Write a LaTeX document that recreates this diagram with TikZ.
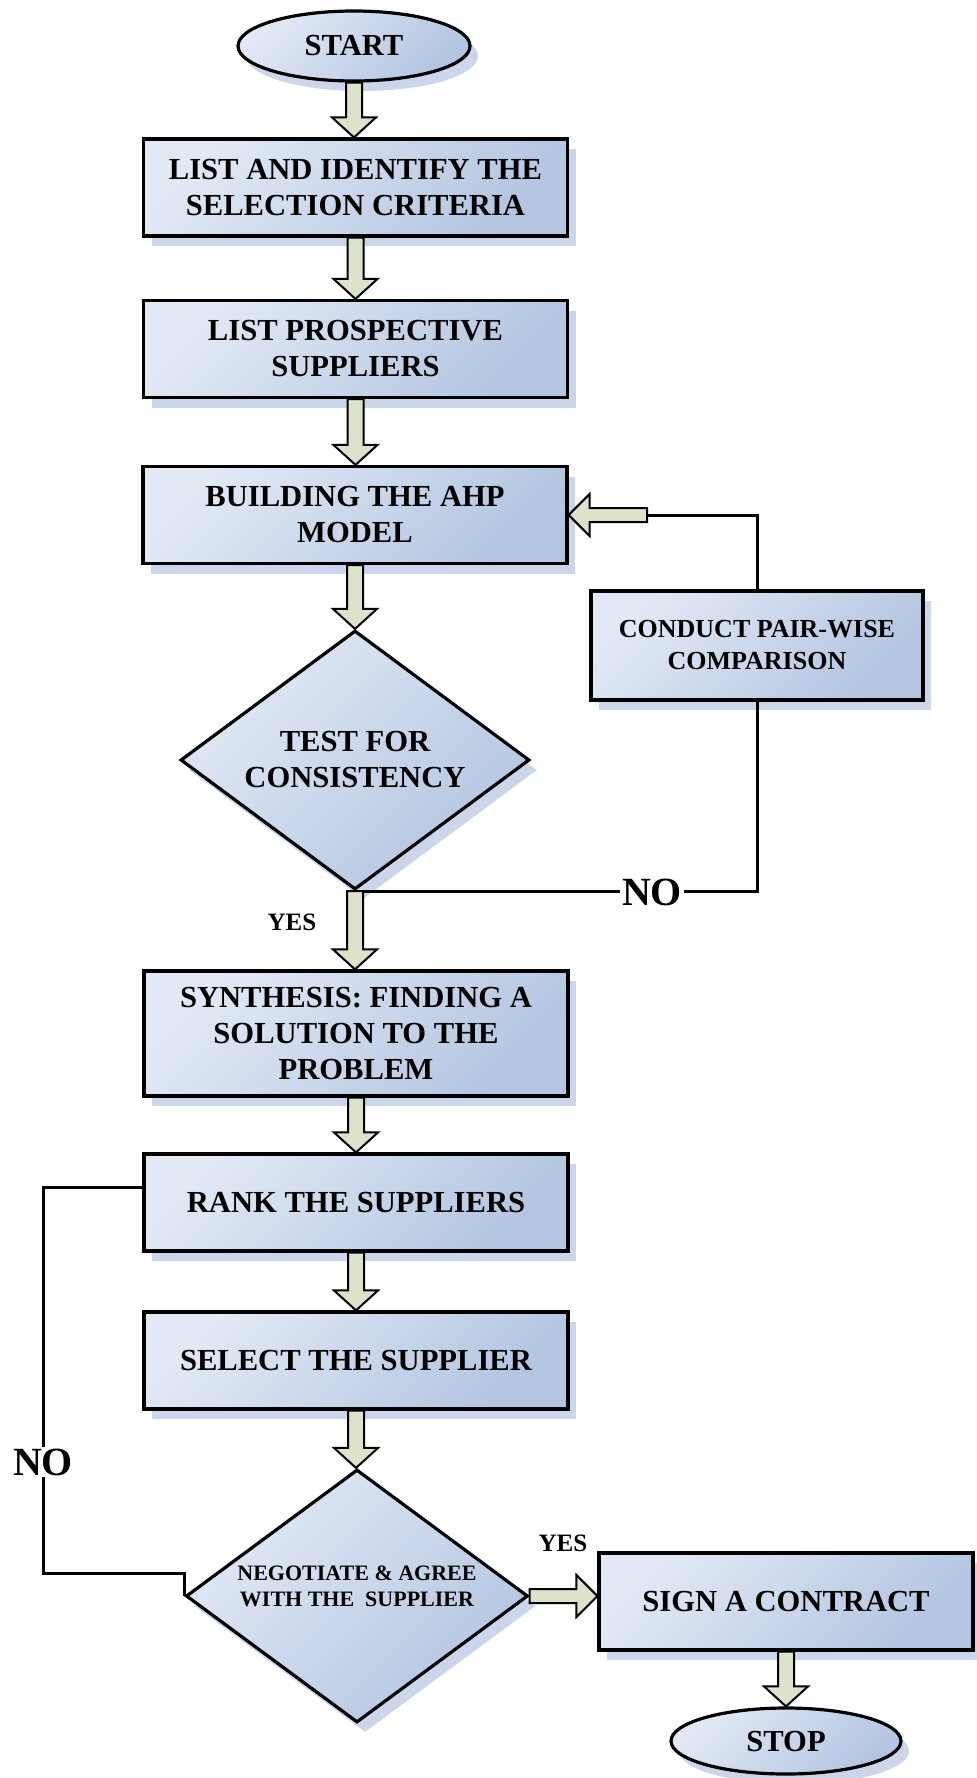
\documentclass[tikz,border=0pt]{standalone}
\usepackage{fontspec}
\setmainfont{Liberation Serif}
\usetikzlibrary{shapes.geometric,shadows,calc}

\definecolor{boxtop}{HTML}{E2E9F5}
\definecolor{boxbottom}{HTML}{B3C5E1}
\definecolor{shadowblue}{HTML}{CBD6EB}
\definecolor{arrowfill}{HTML}{DDE2CB}

\tikzset{
  shaded/.style={top color=boxtop, bottom color=boxbottom, shading angle=45,
    drop shadow={shadow xshift=4pt, shadow yshift=-5pt, fill=shadowblue, opacity=1}},
  flowbox/.style={rectangle, draw, line width=1.6pt, shaded, align=center,
    minimum width=212pt, minimum height=48.5pt, inner sep=2pt,
    font=\fontsize{15.3}{18}\selectfont\bfseries},
  decision/.style={diamond, aspect=1.35, draw, line width=1.6pt, shaded, align=center,
    inner sep=0pt, font=\fontsize{15.3}{18}\selectfont\bfseries},
  terminal/.style={ellipse, draw, line width=1.6pt, shaded, inner sep=0pt,
    minimum width=116pt, minimum height=35pt,
    font=\fontsize{15.3}{18}\selectfont\bfseries},
  blockarrow/.style={draw, line width=1pt, fill=arrowfill, line join=miter},
  loopline/.style={line width=1.5pt},
  nolabel/.style={fill=white, inner sep=1pt, font=\fontsize{20}{22}\selectfont\bfseries},
  yeslabel/.style={inner sep=1pt, font=\fontsize{12.5}{14}\selectfont\bfseries}
}

% fat arrow pointing down, from the bottom of one node to the top of the next
\newcommand{\vblock}[2]{%
  \draw[blockarrow] let \p1=(#1.south), \p2=(#2.north) in
    ({\x1-4pt},\y1) -- ({\x1-4pt},{\y2+10pt}) -- ({\x1-11pt},{\y2+10pt}) -- (\x1,\y2)
    -- ({\x1+11pt},{\y2+10pt}) -- ({\x1+4pt},{\y2+10pt}) -- ({\x1+4pt},\y1) -- cycle;}
% fat horizontal arrow, #3 = 1 to the right, -1 to the left
\newcommand{\hblock}[3]{%
  \draw[blockarrow] let \p1=(#1), \p2=(#2) in
    (\x1,{\y1+3.5pt}) -- ({\x2-(#3)*10.5pt},{\y1+3.5pt}) -- ({\x2-(#3)*10.5pt},{\y1+10.5pt})
    -- (\x2,\y1) -- ({\x2-(#3)*10.5pt},{\y1-10.5pt}) -- ({\x2-(#3)*10.5pt},{\y1-3.5pt})
    -- (\x1,{\y1-3.5pt}) -- cycle;}

\begin{document}
\begin{tikzpicture}[x=0.5pt,y=-0.5pt]
  \useasboundingbox (0,0) rectangle (976,1778);

  % main column
  \node[terminal] (start) at (354,46) {START};
  \node[flowbox] (criteria) at (355.5,187.5) {LIST AND IDENTIFY THE\\SELECTION CRITERIA};
  \node[flowbox] (prospects) at (355.5,349) {LIST PROSPECTIVE\\SUPPLIERS};
  \node[flowbox] (model) at (355,515) {BUILDING THE AHP\\MODEL};
  \node[decision, minimum width=174.5pt, minimum height=129.5pt] (consistency)
    at (355,760) {TEST FOR\\CONSISTENCY};
  \node[flowbox, minimum width=166pt, minimum height=54.5pt,
    font=\fontsize{13}{16}\selectfont\bfseries] (pairwise)
    at (757,645.5) {CONDUCT PAIR-WISE\\COMPARISON};
  \node[flowbox, minimum height=62.5pt] (synthesis) at (356,1033.5)
    {SYNTHESIS: FINDING A\\SOLUTION TO THE\\PROBLEM};
  \node[flowbox] (rank) at (356,1202.5) {RANK THE SUPPLIERS};
  \node[flowbox] (select) at (356,1360.5) {SELECT THE SUPPLIER};
  \node[decision, minimum width=171pt, minimum height=126.5pt, text depth=10pt,
    font=\fontsize{11}{13}\selectfont\bfseries] (negotiate)
    at (357,1596) {NEGOTIATE \& AGREE\\WITH THE\ \ SUPPLIER};
  \node[flowbox, minimum width=187pt] (contract) at (786,1601.5) {SIGN A CONTRACT};
  \node[terminal, minimum width=115pt, minimum height=33pt] (stop) at (786,1741) {STOP};

  % consistency loop
  \coordinate (pairin) at (647,515);
  \draw[loopline] (pairwise.north) |- (pairin);
  \draw[loopline] (consistency.south) -| (pairwise.south);
  \hblock{pairin}{model.east}{-1}
  \node[nolabel] (nopair) at (652,892) {NO};
  \node[yeslabel] (yestest) at (292,922) {YES};

  % negotiation loop
  \coordinate (retry) at (43,1573);
  \draw[loopline] ([yshift=7.5pt]rank.west) -| (retry) -| (negotiate.west);
  \node[nolabel] (noretry) at (43,1462) {NO};
  \node[yeslabel] (yesdeal) at (563,1543) {YES};
  \hblock{negotiate.east}{contract.west}{1}

  % downward arrows
  \vblock{start}{criteria}
  \vblock{criteria}{prospects}
  \vblock{prospects}{model}
  \vblock{model}{consistency}
  \vblock{consistency}{synthesis}
  \vblock{synthesis}{rank}
  \vblock{rank}{select}
  \vblock{select}{negotiate}
  \vblock{contract}{stop}
\end{tikzpicture}
\end{document}
